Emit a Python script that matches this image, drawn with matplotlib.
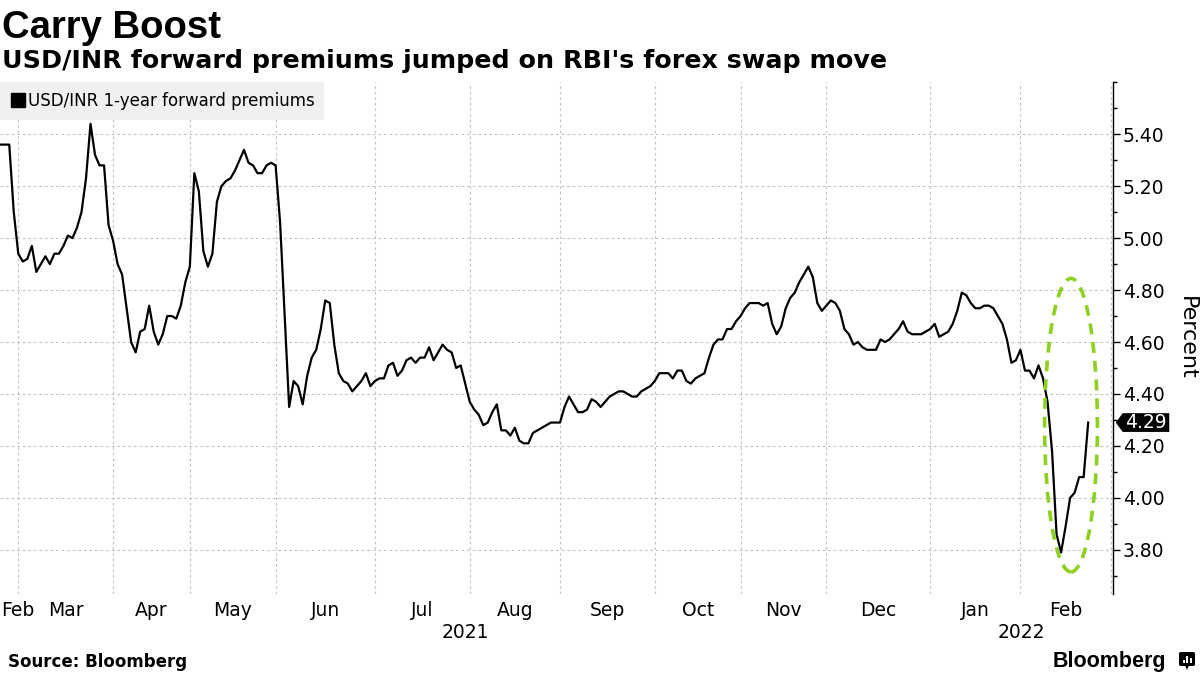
import matplotlib
matplotlib.use("Agg")
import matplotlib.pyplot as plt
from matplotlib.lines import Line2D
from matplotlib.patches import Ellipse, Polygon, FancyBboxPatch, Rectangle
from matplotlib.ticker import FixedLocator, FixedFormatter, NullFormatter
from matplotlib.transforms import Affine2D, ScaledTranslation
import numpy as np

# USD/INR 1-year forward premium (%), one value per trading session
dates = [
    '2021-02-23', '2021-02-24', '2021-02-25', '2021-02-26',
    '2021-03-01', '2021-03-02', '2021-03-03', '2021-03-04', '2021-03-05', '2021-03-08',
    '2021-03-09', '2021-03-10', '2021-03-12', '2021-03-15', '2021-03-16', '2021-03-17',
    '2021-03-18', '2021-03-19', '2021-03-22', '2021-03-23', '2021-03-24', '2021-03-25',
    '2021-03-26', '2021-03-30', '2021-03-31',
    '2021-04-05', '2021-04-06', '2021-04-07', '2021-04-09', '2021-04-12', '2021-04-15',
    '2021-04-16', '2021-04-19', '2021-04-20', '2021-04-22', '2021-04-23', '2021-04-26',
    '2021-04-27', '2021-04-28', '2021-04-29', '2021-04-30',
    '2021-05-03', '2021-05-04', '2021-05-05', '2021-05-06', '2021-05-07', '2021-05-10',
    '2021-05-11', '2021-05-12', '2021-05-14', '2021-05-17', '2021-05-18', '2021-05-19',
    '2021-05-20', '2021-05-21', '2021-05-24', '2021-05-25', '2021-05-27', '2021-05-28',
    '2021-05-31',
    '2021-06-01', '2021-06-02', '2021-06-04', '2021-06-07', '2021-06-08', '2021-06-09',
    '2021-06-10', '2021-06-11', '2021-06-14', '2021-06-15', '2021-06-16', '2021-06-17',
    '2021-06-18', '2021-06-21', '2021-06-22', '2021-06-23', '2021-06-24', '2021-06-25',
    '2021-06-28', '2021-06-29', '2021-06-30',
    '2021-07-01', '2021-07-02', '2021-07-05', '2021-07-06', '2021-07-07', '2021-07-08',
    '2021-07-09', '2021-07-12', '2021-07-13', '2021-07-14', '2021-07-15', '2021-07-16',
    '2021-07-19', '2021-07-20', '2021-07-22', '2021-07-23', '2021-07-26', '2021-07-27',
    '2021-07-28', '2021-07-29', '2021-07-30',
    '2021-08-02', '2021-08-03', '2021-08-04', '2021-08-05', '2021-08-06', '2021-08-09',
    '2021-08-10', '2021-08-11', '2021-08-12', '2021-08-13', '2021-08-17', '2021-08-18',
    '2021-08-20', '2021-08-23', '2021-08-24', '2021-08-25', '2021-08-26', '2021-08-27',
    '2021-08-30', '2021-08-31',
    '2021-09-01', '2021-09-02', '2021-09-03', '2021-09-06', '2021-09-07', '2021-09-08',
    '2021-09-09', '2021-09-13', '2021-09-14', '2021-09-15', '2021-09-16', '2021-09-17',
    '2021-09-20', '2021-09-21', '2021-09-22', '2021-09-23', '2021-09-24', '2021-09-27',
    '2021-09-28', '2021-09-29', '2021-09-30',
    '2021-10-01', '2021-10-04', '2021-10-05', '2021-10-06', '2021-10-07', '2021-10-08',
    '2021-10-11', '2021-10-12', '2021-10-13', '2021-10-14', '2021-10-18', '2021-10-20',
    '2021-10-21', '2021-10-22', '2021-10-25', '2021-10-26', '2021-10-27', '2021-10-28',
    '2021-10-29',
    '2021-11-01', '2021-11-02', '2021-11-03', '2021-11-08', '2021-11-09', '2021-11-10',
    '2021-11-11', '2021-11-12', '2021-11-15', '2021-11-16', '2021-11-17', '2021-11-18',
    '2021-11-22', '2021-11-23', '2021-11-24', '2021-11-25', '2021-11-26', '2021-11-29',
    '2021-11-30',
    '2021-12-01', '2021-12-02', '2021-12-03', '2021-12-06', '2021-12-07', '2021-12-08',
    '2021-12-09', '2021-12-10', '2021-12-13', '2021-12-14', '2021-12-15', '2021-12-16',
    '2021-12-17', '2021-12-20', '2021-12-21', '2021-12-22', '2021-12-23', '2021-12-24',
    '2021-12-27', '2021-12-28', '2021-12-29', '2021-12-30', '2021-12-31',
    '2022-01-03', '2022-01-04', '2022-01-05', '2022-01-06', '2022-01-07', '2022-01-10',
    '2022-01-11', '2022-01-12', '2022-01-13', '2022-01-14', '2022-01-17', '2022-01-18',
    '2022-01-19', '2022-01-20', '2022-01-21', '2022-01-24', '2022-01-25', '2022-01-27',
    '2022-01-28', '2022-01-31',
    '2022-02-01', '2022-02-02', '2022-02-03', '2022-02-04', '2022-02-07', '2022-02-08',
    '2022-02-09', '2022-02-10', '2022-02-11', '2022-02-14', '2022-02-15', '2022-02-16',
    '2022-02-17', '2022-02-18', '2022-02-21', '2022-02-22',
]
premium = [
    5.36, 5.36, 5.36, 5.10,
    4.94, 4.91, 4.92, 4.97, 4.87, 4.90,
    4.93, 4.90, 4.94, 4.94, 4.97, 5.01,
    5.00, 5.04, 5.10, 5.23, 5.44, 5.32,
    5.28, 5.28, 5.05,
    4.99, 4.90, 4.86, 4.60, 4.56, 4.64,
    4.65, 4.74, 4.64, 4.59, 4.63, 4.70,
    4.70, 4.69, 4.74, 4.83,
    4.89, 5.25, 5.18, 4.95, 4.89, 4.94,
    5.14, 5.20, 5.22, 5.23, 5.26, 5.30,
    5.34, 5.29, 5.28, 5.25, 5.25, 5.28,
    5.29,
    5.28, 5.06, 4.35, 4.45, 4.43, 4.36,
    4.47, 4.54, 4.57, 4.65, 4.76, 4.75,
    4.59, 4.48, 4.45, 4.44, 4.41, 4.43,
    4.45, 4.48, 4.43,
    4.45, 4.46, 4.46, 4.51, 4.52, 4.47,
    4.49, 4.53, 4.54, 4.52, 4.54, 4.54,
    4.58, 4.53, 4.56, 4.59, 4.57, 4.56,
    4.50, 4.51, 4.44,
    4.37, 4.34, 4.32, 4.28, 4.29, 4.33,
    4.36, 4.26, 4.26, 4.24, 4.27, 4.22,
    4.21, 4.21, 4.25, 4.26, 4.27, 4.28,
    4.29, 4.29,
    4.29, 4.35, 4.39, 4.36, 4.33, 4.33,
    4.34, 4.38, 4.37, 4.35, 4.37, 4.39,
    4.40, 4.41, 4.41, 4.40, 4.39, 4.39,
    4.41, 4.42, 4.43,
    4.45, 4.48, 4.48, 4.48, 4.46, 4.49,
    4.49, 4.45, 4.44, 4.46, 4.47, 4.48,
    4.54, 4.59, 4.61, 4.61, 4.65, 4.65,
    4.68,
    4.70, 4.73, 4.75, 4.75, 4.75, 4.74,
    4.75, 4.67, 4.63, 4.66, 4.73, 4.77,
    4.79, 4.83, 4.86, 4.89, 4.85, 4.75,
    4.72,
    4.74, 4.76, 4.75, 4.72, 4.65, 4.63,
    4.59, 4.60, 4.58, 4.57, 4.57, 4.57,
    4.61, 4.60, 4.61, 4.63, 4.65, 4.68,
    4.64, 4.63, 4.63, 4.63, 4.64,
    4.65, 4.67, 4.62, 4.63, 4.64, 4.67,
    4.72, 4.79, 4.78, 4.75, 4.73, 4.73,
    4.74, 4.74, 4.73, 4.70, 4.67, 4.61,
    4.52, 4.53,
    4.57, 4.49, 4.49, 4.46, 4.51, 4.46,
    4.37, 4.18, 3.86, 3.79, 3.89, 4.00,
    4.02, 4.08, 4.08, 4.29,
]

# weekday market holidays in India, the x axis counts trading sessions only
market_holidays = [
    '2021-03-11', '2021-03-29', '2021-04-01', '2021-04-02', '2021-04-13', '2021-04-14',
    '2021-04-21', '2021-05-13', '2021-05-26', '2021-07-21', '2021-08-16', '2021-08-19',
    '2021-09-10', '2021-10-15', '2021-10-19', '2021-11-04', '2021-11-05', '2021-11-19',
    '2022-01-26', '2022-03-01',
]

title = "Carry Boost"
subtitle = "USD/INR forward premiums jumped on RBI's forex swap move"
series_name = "USD/INR 1-year forward premiums"
y_ticks = [3.8, 4.0, 4.2, 4.4, 4.6, 4.8, 5.0, 5.2, 5.4]
source = "Source: Bloomberg"

plt.rcParams['font.family'] = ['DejaVu Sans']

day = np.array(dates, dtype='datetime64[D]')
hol = np.array(market_holidays, dtype='datetime64[D]')


def session(d):
    # trading sessions since the first point
    return np.busday_count(day[0], np.asarray(d, dtype='datetime64[D]'), holidays=hol)


pos = session(day)
x_left = -0.05
x_right = session('2022-03-02') + 0.5

W, H = 1200, 675
fig = plt.figure(figsize=(12, 6.75), dpi=100)
ax = fig.add_axes([0.0, 81 / H, 1113 / W, 512 / H])

ax.plot(pos, premium, color='black', lw=1.6, zorder=3)

ax.set_xlim(x_left, x_right)
ax.set_ylim(3.63, 5.601)

# right hand value axis
for side in ['left', 'top', 'bottom']:
    ax.spines[side].set_visible(False)
ax.spines['right'].set_linewidth(1.0)
ax.yaxis.tick_right()
ax.yaxis.set_major_locator(FixedLocator(y_ticks))
ax.yaxis.set_major_formatter(FixedFormatter([f"{v:.2f}" for v in y_ticks]))
ax.yaxis.set_minor_locator(FixedLocator(np.arange(3.7, 5.65, 0.1)))
ax.tick_params(axis='y', which='major', length=5, width=1, pad=2, labelsize=13.5)
ax.tick_params(axis='y', which='minor', length=3, width=1)

# gridline at the first session of each month, month name centred in the month
months = np.arange('2021-02', '2022-05', dtype='datetime64[M]')
first_days = np.busday_offset(months.astype('datetime64[D]'), 0, roll='forward', holidays=hol)
starts = session(first_days)
ax.xaxis.set_major_locator(FixedLocator([s for s in starts if x_left < s < x_right]))
ax.xaxis.set_major_formatter(NullFormatter())
mids, names = [], []
for m, a, b in zip(months[:-1], starts[:-1], starts[1:]):
    a, b = max(a, x_left), min(b, x_right)
    if b - a < 3:
        continue
    # keep a clipped month's name inside the figure
    mid = min(max((a + b) / 2, x_left + 4.0), x_right - 4.0)
    mids.append(mid)
    names.append(m.astype(object).strftime('%b'))
ax.xaxis.set_minor_locator(FixedLocator(mids))
ax.xaxis.set_minor_formatter(FixedFormatter(names))
ax.tick_params(axis='x', which='both', length=0)
ax.tick_params(axis='x', which='minor', labelsize=13.5, pad=5)

for yr in [2021, 2022]:
    a = max(session(np.busday_offset(f'{yr}-01-01', 0, roll='forward', holidays=hol)), x_left)
    b = min(session(np.busday_offset(f'{yr + 1}-01-01', 0, roll='forward', holidays=hol)), x_right)
    ax.annotate(str(yr), xy=((a + b) / 2, 0), xycoords=('data', 'axes fraction'),
                xytext=(0, -28), textcoords='offset points', ha='center', va='center',
                fontsize=13.5)

ax.grid(True, which='major', color='#c4c4c4', lw=0.8, linestyle=(0, (2.5, 2.5)))
ax.set_axisbelow(True)

# legend
handle = Line2D([], [], marker='s', color='black', ls='none', markersize=10)
ax.legend([handle], [series_name], loc='upper left', bbox_to_anchor=(0, 1),
          borderaxespad=0, fancybox=False, facecolor='#f0f0f0', edgecolor='none',
          framealpha=1, fontsize=12, handlelength=0.9, handletextpad=0.15,
          borderpad=0.6)

# dashed ring round the February dip
ring = Ellipse((session('2022-02-16') + 0.2, 4.28), width=11.7, height=1.13,
               fill=False, ec='#8ed01f', lw=2.6, ls=(0, (3, 2.2)), zorder=4, clip_on=False)
ax.add_artist(ring)

# last value tag on the axis
last = premium[-1]
tag_tr = Affine2D().scale(fig.dpi / 72) + ScaledTranslation(1, last, ax.get_yaxis_transform())
tag = Polygon([(2, 0), (7, 6.75), (40.5, 6.75), (40.5, -6.75), (7, -6.75)], closed=True,
              transform=tag_tr, fc='black', ec='none', clip_on=False, zorder=5)
ax.add_artist(tag)
ax.annotate(f"{last:.2f}", xy=(1, last), xycoords=('axes fraction', 'data'),
            xytext=(24, 0), textcoords='offset points', color='white', fontsize=13.5,
            ha='center', va='center', annotation_clip=False, zorder=6)

fig.text(1187 / W, 1 - 338 / H, 'Percent', rotation=270, ha='center', va='center', fontsize=16)

# titles and footer
fig.text(2 / W, 1 - 38 / H, title, fontsize=27.5, fontweight='bold',
         family='Liberation Sans', va='baseline')
fig.text(2 / W, 1 - 68 / H, subtitle, fontsize=18.3, fontweight='bold', va='baseline')
fig.text(8 / W, 1 - 662 / H, source, fontsize=12, fontweight='bold', va='center')
fig.text(1166 / W, 1 - 661 / H, 'Bloomberg', fontsize=15.5, fontweight='bold',
         family='Liberation Sans', ha='right', va='center')


# small logo mark next to the wordmark
def px(xp, yp):
    return xp / W, 1 - yp / H


icon = FancyBboxPatch(px(1179, 666), 16 / W, 14 / H, boxstyle='round,pad=0,rounding_size=0.002',
                      transform=fig.transFigure, fc='black', ec='none')
fig.add_artist(icon)
fig.add_artist(Polygon([px(1185, 665), px(1189, 665), px(1187, 670)], closed=True,
                       transform=fig.transFigure, fc='black', ec='none'))
for bx, top in [(1182.5, 660), (1186, 656), (1189.5, 658)]:
    fig.add_artist(Rectangle(px(bx, 663), 2 / W, (663 - top) / H,
                             transform=fig.transFigure, fc='white', ec='none'))

fig.savefig('out.png', dpi=100)
